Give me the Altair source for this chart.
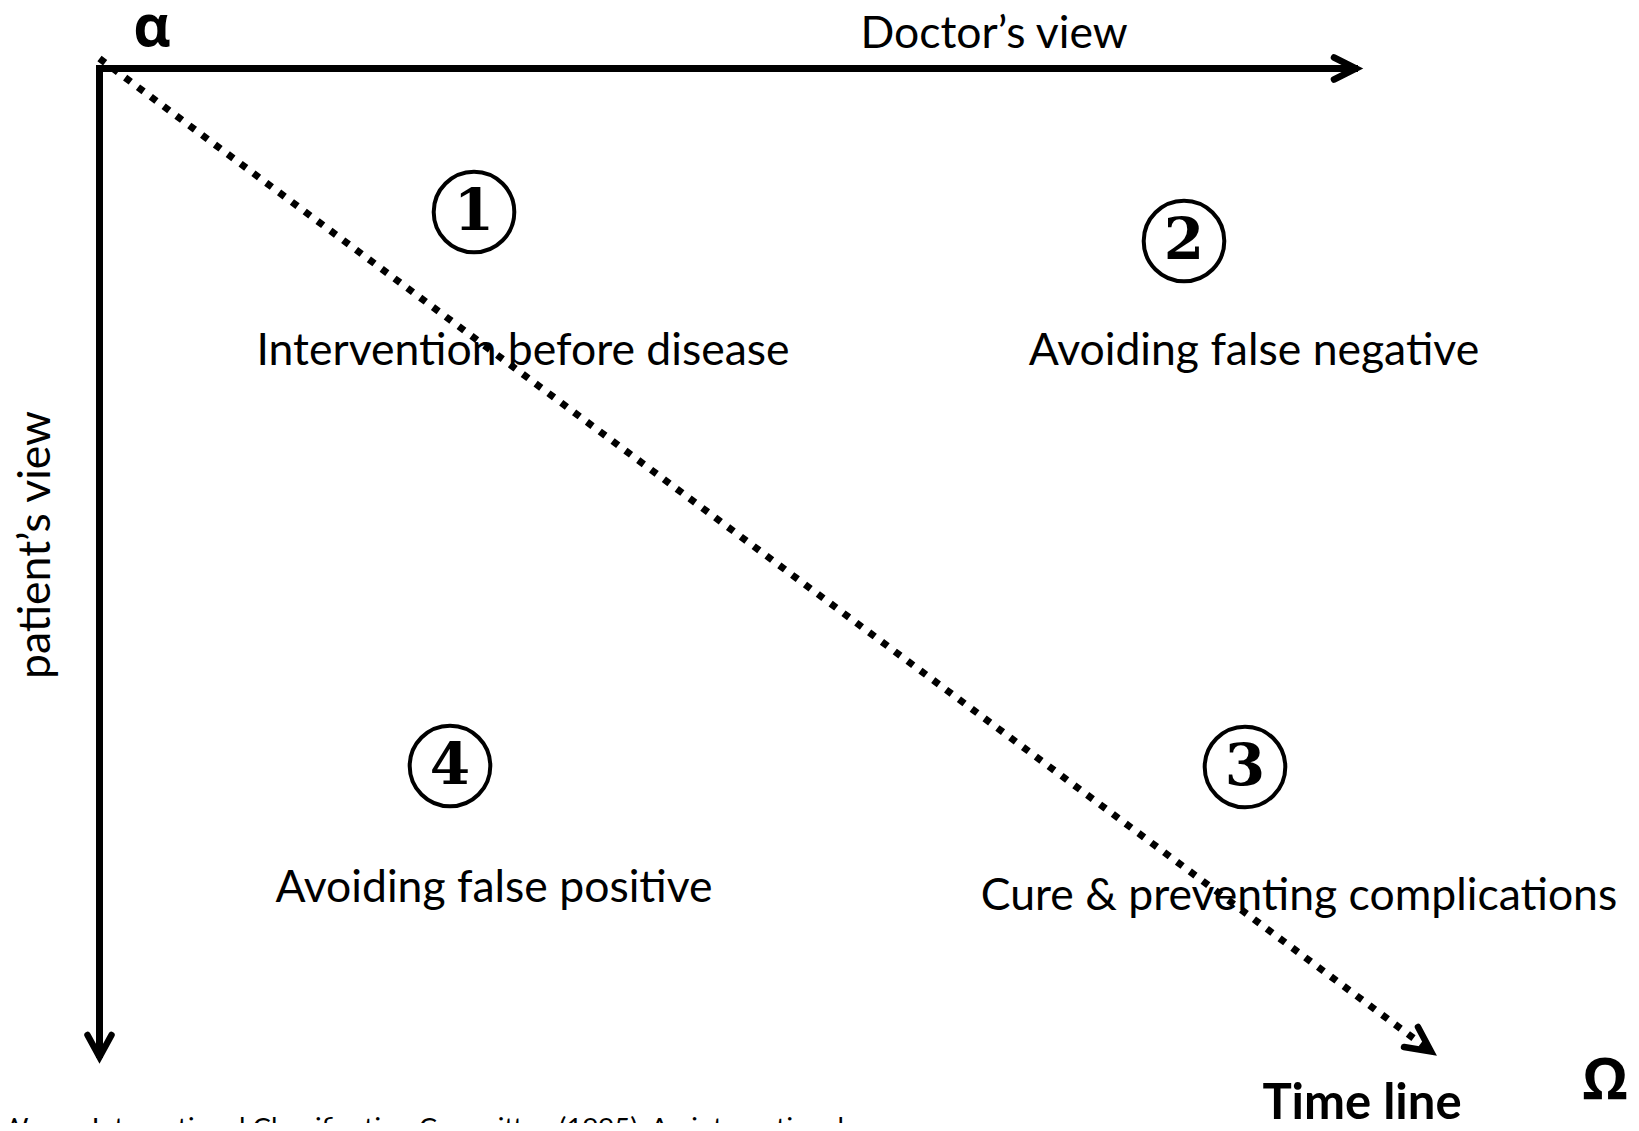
import altair as alt
import pandas as pd

# ---- diagram content (coordinates in reference-image pixels) ----
quad_labels = ["Intervention before disease", "Avoiding false negative",
               "Cure & preventing complications", "Avoiding false positive"]
quad_label_x = [523, 1254, 1299, 494]
quad_label_y = [365, 365, 910, 902]

quad_numbers = ["1", "2", "3", "4"]
quad_num_x = [474, 1184, 1245, 450]
quad_num_y = [212, 241, 767, 766]

doctor_label = ["Doctor\u2019s view"]
doctor_x = [994]
doctor_y = [48]

patient_label = ["patient\u2019s view"]
patient_x = [37]
patient_y = [545]

ends = ["\u03b1", "\u03a9"]
end_x = [152, 1605]
end_y = [46, 1099]

timeline_label = ["Time line"]
timeline_x = [1362]
timeline_y = [1119]

footnote = ["Wonca International Classification Committee (1995). An international"]
footnote_x = [0]
footnote_y = [1137]

# axis shafts
shaft_x = [96, 99.5]
shaft_y = [68.5, 65]
shaft_x2 = [1358, 99.5]
shaft_y2 = [68.5, 1058]

# arrow heads (arm, tip, arm)
head_id = ["doc", "doc", "doc", "pat", "pat", "pat", "time", "time", "time"]
head_order = [0, 1, 2, 0, 1, 2, 0, 1, 2]
head_x = [1334, 1356, 1334, 87.5, 99.5, 111.5, 1418, 1431, 1404]
head_y = [57.5, 68.5, 79.5, 1035, 1057, 1035, 1027, 1051.5, 1047]

# dotted time line
time_x = [99.5]
time_y = [58.5]
time_x2 = [1428]
time_y2 = [1049]

W, H = 1623, 1115
xs = alt.Scale(domain=[8, 8 + W], nice=False, zero=False)
ys = alt.Scale(domain=[8, 8 + H], nice=False, zero=False, reverse=True)


def X(f="x"):
    return alt.X(f"{f}:Q", scale=xs, axis=None)


def Y(f="y"):
    return alt.Y(f"{f}:Q", scale=ys, axis=None)


shafts = alt.Chart(pd.DataFrame({"x": shaft_x, "y": shaft_y, "x2": shaft_x2, "y2": shaft_y2})).mark_rule(
    color="black", strokeWidth=7, strokeCap="butt"
).encode(x=X(), y=Y(), x2="x2:Q", y2="y2:Q")

heads = alt.Chart(pd.DataFrame({"head": head_id, "order": head_order, "x": head_x, "y": head_y})).mark_line(
    color="black", strokeWidth=6.5, strokeJoin="miter", strokeCap="round"
).encode(x=X(), y=Y(), detail="head:N", order="order:Q")

dotted = alt.Chart(pd.DataFrame({"x": time_x, "y": time_y, "x2": time_x2, "y2": time_y2})).mark_rule(
    color="black", strokeWidth=7, strokeDash=[7, 9], strokeCap="butt"
).encode(x=X(), y=Y(), x2="x2:Q", y2="y2:Q")

qlabels = alt.Chart(pd.DataFrame({"t": quad_labels, "x": quad_label_x, "y": quad_label_y})).mark_text(
    font="Lato", fontSize=44.5, align="center", baseline="alphabetic", color="black"
).encode(x=X(), y=Y(), text="t:N")

circles = alt.Chart(pd.DataFrame({"t": quad_numbers, "x": quad_num_x, "y": quad_num_y})).mark_point(
    shape="circle", filled=False, size=6500, strokeWidth=4, color="black", opacity=1
).encode(x=X(), y=Y())

digits = alt.Chart(pd.DataFrame({"t": quad_numbers, "x": quad_num_x, "y": quad_num_y})).mark_text(
    font="DejaVu Serif", fontWeight="bold", fontSize=58, align="center", baseline="middle", dy=1, color="black"
).encode(x=X(), y=Y(), text="t:N")

doctor = alt.Chart(pd.DataFrame({"t": doctor_label, "x": doctor_x, "y": doctor_y})).mark_text(
    font="Lato", fontSize=44.5, align="center", baseline="alphabetic", color="black"
).encode(x=X(), y=Y(), text="t:N")

patient = alt.Chart(pd.DataFrame({"t": patient_label, "x": patient_x, "y": patient_y})).mark_text(
    font="Lato", fontSize=44.5, align="center", baseline="middle", angle=270, color="black"
).encode(x=X(), y=Y(), text="t:N")

greek = alt.Chart(pd.DataFrame({"t": ends, "x": end_x, "y": end_y})).mark_text(
    font="Open Sans", fontWeight="bold", fontSize=58, align="center", baseline="alphabetic", color="black"
).encode(x=X(), y=Y(), text="t:N")

tl = alt.Chart(pd.DataFrame({"t": timeline_label, "x": timeline_x, "y": timeline_y})).mark_text(
    font="Lato", fontWeight="bold", fontSize=49, align="center", baseline="alphabetic", color="black"
).encode(x=X(), y=Y(), text="t:N")

foot = alt.Chart(pd.DataFrame({"t": footnote, "x": footnote_x, "y": footnote_y})).mark_text(
    font="Lato", fontSize=27.5, align="left", baseline="alphabetic", color="black"
).encode(x=X(), y=Y(), text="t:N")

chart = alt.layer(shafts, dotted, heads, circles, digits, qlabels, doctor, patient, greek, tl, foot).properties(
    width=W, height=H, autosize=alt.AutoSizeParams(type="none"), padding=0, background="white"
).configure_view(stroke=None)

chart.save("out.html", embed_options={"renderer": "svg", "actions": False})
